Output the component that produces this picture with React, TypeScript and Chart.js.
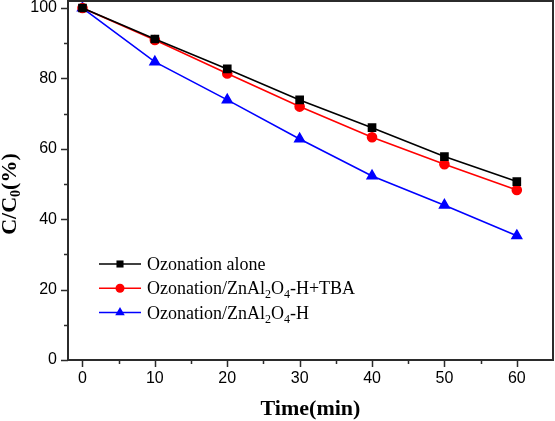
import React, { useEffect, useRef } from "react";
import { Chart, registerables } from "chart.js";

Chart.register(...registerables);

// ---- data ----
const timeMin = [0, 10, 20, 30, 40, 50, 60];
const ozonationAlone = [100, 91.2, 82.7, 73.9, 66.0, 57.8, 50.7];
const ozonationCatTBA = [100, 90.9, 81.4, 72.0, 63.3, 55.6, 48.3];
const ozonationCat = [100, 84.7, 73.9, 62.8, 52.3, 44.0, 35.3];

const seriesLabels = [
  "Ozonation alone",
  "Ozonation/ZnAl2O4-H+TBA",
  "Ozonation/ZnAl2O4-H",
];

const xMajorTicks = [0, 10, 20, 30, 40, 50, 60];
const xMinorTicks = [5, 15, 25, 35, 45, 55];
const yMajorTicks = [0, 20, 40, 60, 80, 100];
const yMinorTicks = [10, 30, 50, 70, 90];

const xTitle = "Time(min)";
const yTitle = "C/C0(%)";

const FRAME = "#2b2b2b";

// draw text where digits that follow a letter are subscripts
function richSegments(text: string) {
  const segs: { t: string; sub: boolean }[] = [];
  for (let i = 0; i < text.length; i++) {
    const ch = text[i];
    const sub = /[0-9]/.test(ch) && i > 0 && /[A-Za-z]/.test(text[i - 1]);
    const last = segs[segs.length - 1];
    if (last && last.sub === sub) last.t += ch;
    else segs.push({ t: ch, sub });
  }
  return segs;
}

function measureRich(ctx: CanvasRenderingContext2D, text: string, size: number, weight: string, family: string, subScale: number) {
  let w = 0;
  for (const s of richSegments(text)) {
    ctx.font = `${weight} ${s.sub ? Math.round(size * subScale) : size}px ${family}`;
    w += ctx.measureText(s.t).width;
  }
  return w;
}

function drawRich(ctx: CanvasRenderingContext2D, text: string, x: number, y: number, size: number, weight: string, family: string, subScale: number, subDrop: number) {
  let cx = x;
  ctx.textBaseline = "alphabetic";
  ctx.textAlign = "left";
  for (const s of richSegments(text)) {
    ctx.font = `${weight} ${s.sub ? Math.round(size * subScale) : size}px ${family}`;
    ctx.fillText(s.t, cx, s.sub ? y + subDrop : y);
    cx += ctx.measureText(s.t).width;
  }
}

function drawMarker(ctx: CanvasRenderingContext2D, style: string, x: number, y: number, r: number, color: string) {
  ctx.fillStyle = color;
  ctx.beginPath();
  if (style === "rect") {
    const s = r * Math.SQRT1_2;
    ctx.rect(x - s, y - s, 2 * s, 2 * s);
  } else if (style === "circle") {
    ctx.arc(x, y, r, 0, Math.PI * 2);
  } else {
    const side = r * Math.sqrt(3);
    const h = (side * Math.sqrt(3)) / 2;
    ctx.moveTo(x, y - (2 * h) / 3);
    ctx.lineTo(x + side / 2, y + h / 3);
    ctx.lineTo(x - side / 2, y + h / 3);
    ctx.closePath();
  }
  ctx.fill();
}

const decorPlugin = {
  id: "decor",
  afterDraw(chart: any) {
    const ctx: CanvasRenderingContext2D = chart.ctx;
    const { left, right, top, bottom } = chart.chartArea;
    const xs = chart.scales.x;
    const ys = chart.scales.y;
    ctx.save();
    // frame
    ctx.strokeStyle = FRAME;
    ctx.lineWidth = 2;
    ctx.strokeRect(left, top, right - left, bottom - top);
    // ticks
    ctx.lineWidth = 1.5;
    ctx.beginPath();
    xMajorTicks.forEach((v) => {
      const p = Math.round(xs.getPixelForValue(v)) + 0.5;
      ctx.moveTo(p, bottom);
      ctx.lineTo(p, bottom + 7);
    });
    xMinorTicks.forEach((v) => {
      const p = Math.round(xs.getPixelForValue(v)) + 0.5;
      ctx.moveTo(p, bottom);
      ctx.lineTo(p, bottom + 4);
    });
    yMajorTicks.forEach((v) => {
      const p = Math.round(ys.getPixelForValue(v)) + 0.5;
      ctx.moveTo(left, p);
      ctx.lineTo(left - 7, p);
    });
    yMinorTicks.forEach((v) => {
      const p = Math.round(ys.getPixelForValue(v)) + 0.5;
      ctx.moveTo(left, p);
      ctx.lineTo(left - 4, p);
    });
    ctx.stroke();

    // axis titles
    ctx.fillStyle = "#000";
    const fam = '"Liberation Serif", "Times New Roman", serif';
    ctx.font = `bold 22px ${fam}`;
    ctx.textAlign = "center";
    ctx.textBaseline = "alphabetic";
    ctx.fillText(xTitle, (left + right) / 2, 415);

    const yw = measureRich(ctx, yTitle, 22, "bold", fam, 0.62);
    ctx.translate(16, 194);
    ctx.rotate(-Math.PI / 2);
    drawRich(ctx, yTitle, -yw / 2, 0, 22, "bold", fam, 0.62, 4);
    ctx.setTransform(1, 0, 0, 1, 0, 0);

    // legend
    chart.data.datasets.forEach((ds: any, i: number) => {
      const y = 264 + i * 24.3;
      ctx.strokeStyle = ds.borderColor;
      ctx.lineWidth = 1.5;
      ctx.beginPath();
      ctx.moveTo(99, y);
      ctx.lineTo(141, y);
      ctx.stroke();
      drawMarker(ctx, ds.pointStyle, 120, y, ds.pointRadius, ds.borderColor);
      ctx.fillStyle = "#000";
      drawRich(ctx, ds.label, 147, y + 6, 18, "normal", fam, 0.65, 4);
    });
    ctx.restore();
  },
};

export default function App() {
  const ref = useRef<HTMLCanvasElement | null>(null);
  useEffect(() => {
    if (!ref.current) return;
    const mk = (vals: number[]) => timeMin.map((t, i) => ({ x: t, y: vals[i] }));
    const chart = new Chart(ref.current, {
      type: "line",
      data: {
        datasets: [
          {
            label: seriesLabels[0],
            data: mk(ozonationAlone),
            borderColor: "#000000",
            backgroundColor: "#000000",
            pointStyle: "rect",
            pointRadius: 5,
            borderWidth: 1.6,
          },
          {
            label: seriesLabels[1],
            data: mk(ozonationCatTBA),
            borderColor: "#ff0000",
            backgroundColor: "#ff0000",
            pointStyle: "circle",
            pointRadius: 4.5,
            borderWidth: 1.6,
          },
          {
            label: seriesLabels[2],
            data: mk(ozonationCat),
            borderColor: "#0000ff",
            backgroundColor: "#0000ff",
            pointStyle: "triangle",
            pointRadius: 5.5,
            borderWidth: 1.6,
          },
        ] as any,
      },
      options: {
        responsive: false,
        animation: false,
        devicePixelRatio: 1,
        layout: { autoPadding: false, padding: { top: 1, right: 2, left: 0, bottom: 0 } },
        plugins: { legend: { display: false }, tooltip: { enabled: false } },
        elements: { point: { borderWidth: 0 }, line: { tension: 0 } },
        scales: {
          x: {
            type: "linear",
            min: -2,
            max: 65,
            afterBuildTicks: (s: any) => {
              s.ticks = xMajorTicks.map((v) => ({ value: v }));
            },
            afterFit: (s: any) => {
              s.height = 61;
              s.paddingLeft = 0;
              s.paddingRight = 0;
            },
            grid: { display: false, drawTicks: false },
            border: { display: false },
            ticks: {
              color: "#000",
              padding: 9,
              maxRotation: 0,
              autoSkip: false,
              font: { family: '"Liberation Sans", Arial, sans-serif', size: 16 },
            },
          },
          y: {
            type: "linear",
            min: 0,
            max: 102,
            afterBuildTicks: (s: any) => {
              s.ticks = yMajorTicks.map((v) => ({ value: v }));
            },
            afterFit: (s: any) => {
              s.width = 68;
              s.paddingTop = 0;
              s.paddingBottom = 0;
            },
            grid: { display: false, drawTicks: false },
            border: { display: false },
            ticks: {
              color: "#000",
              padding: 11,
              autoSkip: false,
              font: { family: '"Liberation Sans", Arial, sans-serif', size: 16 },
            },
          },
        },
      },
      plugins: [decorPlugin],
    });
    return () => chart.destroy();
  }, []);
  return (
    <div style={{ position: "absolute", left: 0, top: 0, width: 555, height: 421, background: "#fff" }}>
      <canvas ref={ref} width={555} height={421} style={{ display: "block" }} />
    </div>
  );
}
